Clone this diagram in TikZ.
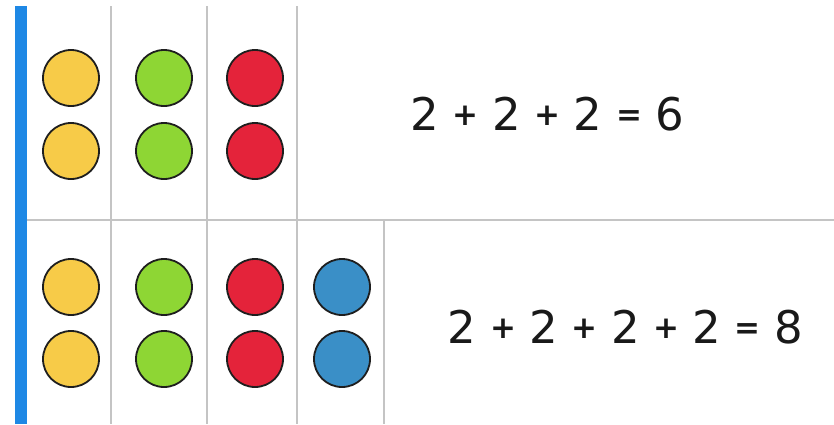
\documentclass[tikz,border=0pt]{standalone}
\usepackage{fontspec}
\usepackage{xcolor}
\usepackage{tikz}
\usetikzlibrary{positioning}
\newfontfamily\sumfont{DejaVu Sans}
\newcommand{\sumop}[1]{\hspace{13.5pt}\raisebox{5pt}{\fontsize{31}{31}\selectfont\bfseries #1}\hspace{13.5pt}}
\definecolor{rule}{RGB}{196,196,196}
\definecolor{bar}{RGB}{30,136,229}
\definecolor{yel}{RGB}{247,203,72}
\definecolor{grn}{RGB}{142,214,52}
\definecolor{rd}{RGB}{228,35,58}
\definecolor{blu}{RGB}{58,143,199}
\definecolor{rim}{RGB}{30,30,30}

\begin{document}
\begin{tikzpicture}[
  x=1pt, y=-1pt,
  dot/.style={circle, draw=rim, line width=1.8pt, minimum size=56pt,
              inner sep=0pt},
  ydot/.style={dot, fill=yel},
  gdot/.style={dot, fill=grn},
  rdot/.style={dot, fill=rd},
  bdot/.style={dot, fill=blu},
  grid/.style={draw=rule, line width=2pt},
  sum/.style={font=\sumfont\fontsize{45}{45}\selectfont, text=black!90,
              inner sep=0pt}]
  \useasboundingbox[fill=white] (0,0) rectangle (834,424);
  % dividers
  \draw[grid] (27,220) -- (834,220);
  \draw[grid] (111,6) -- (111,424);
  \draw[grid] (207,6) -- (207,424);
  \draw[grid] (297,6) -- (297,424);
  \draw[grid] (384,220) -- (384,424);
  \fill[bar] (15,6) rectangle (27,424);
  % top row
  \node[ydot] (y1) at (71,78) {};
  \node[ydot] (y2) at (71,151) {};
  \node[gdot] (g1) at (164,78) {};
  \node[gdot] (g2) at (164,151) {};
  \node[rdot] (r1) at (255,78) {};
  \node[rdot] (r2) at (255,151) {};
  \node[sum] (sumtop) at (547.5,114) {2\sumop{+}2\sumop{+}2\sumop{=}6};
  % bottom row
  \node[ydot] (y3) at (71,287) {};
  \node[ydot] (y4) at (71,359) {};
  \node[gdot] (g3) at (164,287) {};
  \node[gdot] (g4) at (164,359) {};
  \node[rdot] (r3) at (255,287) {};
  \node[rdot] (r4) at (255,359) {};
  \node[bdot] (b3) at (342,287) {};
  \node[bdot] (b4) at (342,359) {};
  \node[sum] (sumbot) at (625.5,327.5) {2\sumop{+}2\sumop{+}2\sumop{+}2\sumop{=}8};
\end{tikzpicture}
\end{document}
